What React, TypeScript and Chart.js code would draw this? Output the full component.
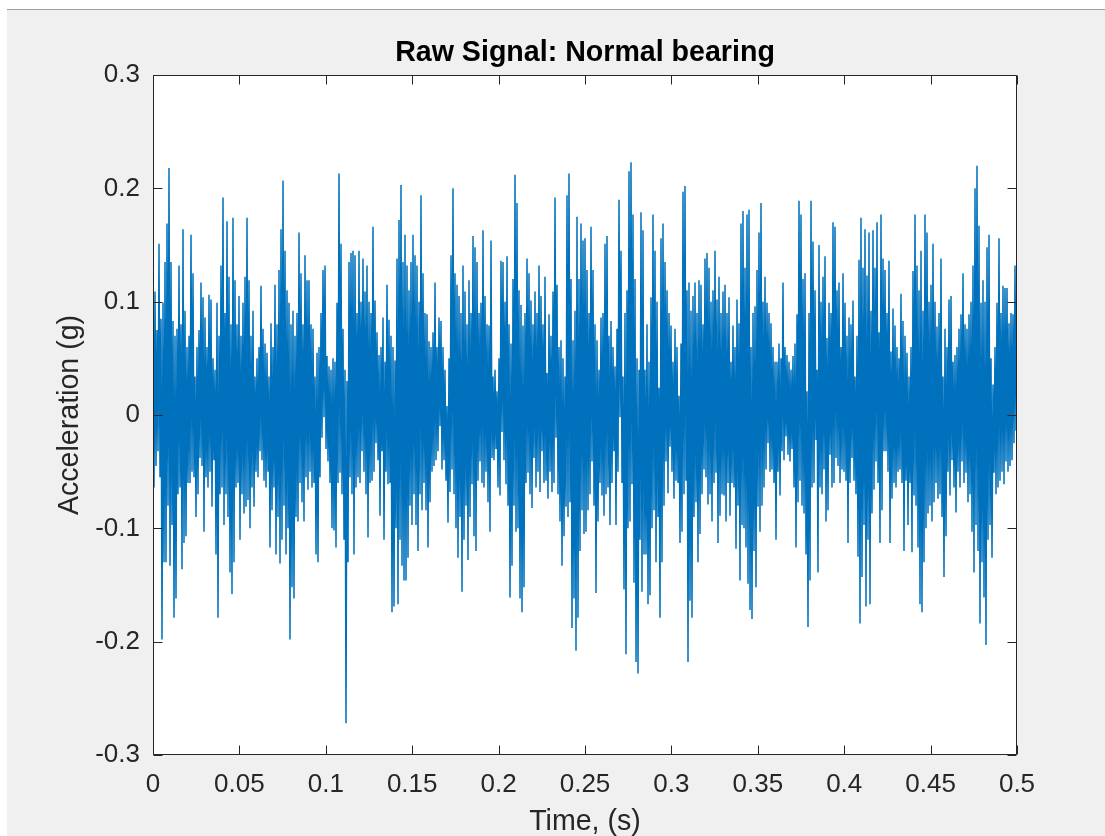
import React, { useEffect, useRef } from "react";
import { Chart, registerables } from "chart.js";

Chart.register(...registerables);

const TITLE = "Raw Signal: Normal bearing";
const X_LABEL = "Time, (s)";
const Y_LABEL = "Acceleration (g)";
const DURATION_S = 0.5;

const X_TICKS = [0, 0.05, 0.1, 0.15, 0.2, 0.25, 0.3, 0.35, 0.4, 0.45, 0.5];
const X_TICK_LABELS = ["0", "0.05", "0.1", "0.15", "0.2", "0.25", "0.3", "0.35", "0.4", "0.45", "0.5"];
const Y_TICKS = [-0.3, -0.2, -0.1, 0, 0.1, 0.2, 0.3];
const Y_TICK_LABELS = ["-0.3", "-0.2", "-0.1", "0", "0.1", "0.2", "0.3"];

// Acceleration samples in milli-g, one per screen pixel, 0 s -> 0.5 s
const SEG_1 = [
  60,-64,109,-45,75,-32,151,-55,85,-198,99,-130,
  135,-130,169,-80,218,-133,135,-97,83,-179,70,-162,
  76,-70,132,-64,80,-136,164,-113,92,-107,60,-60,
  70,-60,159,-50,125,-55,34,-90,60,-70,75,-38,
  117,-45,104,-103,86,-55,60,-64,106,-50,102,-81,
  50,-40,40,-123,99,-179,70,-70,132,-64,192,-97,
  90,-70,171,-90,122,-139,80,-158,174,-130,119,-64,
  80,-60,105,-110,70,-70,99,-87,122,-81,174,-75,
  119,-100,70,-64,92,-81,34,-50,50,-55,60,-32,
  114,-40,76,-58,63,-64,55,-50,34,-117,81,-84,
  60,-64,115,-123,80,-90,128,-131,164,-110,207,-80,
  145,-123,110,-100,99,-198,80,-152,92,-162,70,-90,
];
const SEG_2 = [
  90,-94,161,-60,125,-77,80,-94,141,-55,119,-66,
  119,-50,80,-64,76,-60,34,-123,55,-130,60,-55,
  90,-20,128,-2,132,-30,52,-41,43,-60,40,-100,
  50,-102,47,-117,99,-60,213,-51,151,-70,76,-110,
  40,-272,30,-130,135,-55,143,-70,145,-123,141,-64,
  90,-55,145,-60,100,-32,138,-50,109,-70,132,-108,
  100,-60,90,-58,166,-50,101,-25,73,-40,53,-89,
  60,-32,86,-110,47,-50,115,-61,84,-60,70,-174,
  60,-169,48,-100,138,-167,172,-110,203,-133,135,-146,
  159,-146,132,-126,110,-80,135,-97,159,-70,141,-97,
  132,-120,100,-70,194,-84,125,-60,90,-84,89,-117,
  65,-77,60,-50,73,-45,117,-40,60,-32,86,-10,
];
const SEG_3 = [
  83,-48,60,-40,40,-58,8,-95,50,-68,141,-48,
  200,-70,125,-100,115,-126,105,-90,90,-156,132,-110,
  109,-80,80,-128,119,-90,90,-61,158,-107,148,-120,
  135,-58,90,-41,99,-60,163,-64,105,-50,80,-77,
  79,-103,154,-38,34,-40,40,-30,21,-64,50,-71,
  136,-15,135,-40,100,-61,140,-80,80,-161,63,-133,
  120,-80,212,-103,187,-100,110,-162,97,-174,79,-152,
  90,-60,138,-51,125,-70,101,-82,80,-38,109,-64,
  90,-50,132,-68,105,-32,80,-60,122,-58,37,-74,
  89,-50,70,-68,109,-60,192,-20,115,-70,60,-94,
  66,-133,50,-107,34,-81,194,-90,213,-77,120,-188,
  66,-162,92,-208,175,-179,120,-120,169,-84,154,-105,
];
const SEG_4 = [
  156,-103,128,-84,90,-70,166,-41,128,-80,80,-157,
  66,-94,40,-60,86,-71,90,-89,151,-70,158,-64,
  70,-97,83,-60,60,-32,43,-97,76,-50,190,-2,
  145,-60,34,-154,90,-211,110,-100,215,-94,223,-61,
  177,-148,120,-218,50,-228,40,-110,179,-156,163,-123,
  40,-123,80,-167,47,-159,104,-100,177,-84,145,-130,
  100,-90,24,-179,156,-130,169,-80,135,-41,110,-69,
  90,-28,79,-50,47,-74,76,-58,60,-60,17,-113,
  63,-103,197,-70,202,-58,110,-218,117,-164,92,-179,
  105,-90,117,-77,90,-130,119,-105,115,-70,80,-48,
  138,-55,143,-79,130,-70,100,-94,110,-60,145,-51,
  102,-113,122,-89,90,-70,109,-71,115,-94,90,-60,
];
const SEG_5 = [
  104,-89,47,-60,79,-64,60,-118,102,-80,81,-146,
  169,-97,180,-100,130,-117,177,-149,181,-172,60,-180,
  90,-120,96,-152,128,-81,161,-103,187,-80,100,-64,
  122,-48,99,-25,90,-50,81,-48,60,-60,47,-110,
  47,-50,63,-71,50,-32,117,-40,60,-19,53,-35,
  47,-41,40,-30,52,-64,63,-117,89,-77,189,-58,
  177,-80,120,-87,125,-123,21,-187,90,-146,189,-64,
  153,-60,110,-22,40,-139,150,-64,100,-70,122,-48,
  140,-94,68,-84,99,-35,90,-64,170,-60,166,-38,
  110,-45,117,-60,60,-48,125,-50,99,-58,70,-113,
  86,-60,80,-38,101,-58,34,-70,70,-125,137,-184,
  174,-143,130,-97,164,-169,123,-110,161,-167,92,-87,
];
const SEG_6 = [
  163,-66,130,-41,170,-60,73,-113,177,-84,138,-32,
  128,-32,90,-50,136,-113,56,-74,94,-60,79,-64,
  60,-50,50,-48,107,-60,83,-120,70,-58,55,-97,
  34,-60,60,-121,127,-71,177,-80,132,-117,110,-167,
  145,-174,92,-130,177,-100,161,-87,100,-80,115,-94,
  151,-77,100,-60,78,-74,90,-70,138,-90,34,-143,
  76,-107,60,-50,102,-71,105,-40,47,-64,53,-86,
  60,-50,76,-64,89,-41,125,-60,80,-51,76,-77,
  89,-70,100,-103,132,-139,200,-97,220,-120,167,-184,
  99,-130,119,-161,100,-203,148,-110,159,-97,50,-126,
  27,-51,60,-70,99,-64,156,-58,90,-50,114,-61,
  112,-41,112,-50,81,-45,90,-40,89,-25,132,-14,137,
];

const FONT = "'Liberation Sans', Arial, Helvetica, sans-serif";
const LINE_COLOR = "#0072bd";
const AXIS_COLOR = "#262626";

const framePlugin = {
  id: "matlabFrame",
  beforeDraw(chart: any) {
    const { ctx, chartArea: a } = chart;
    ctx.save();
    ctx.fillStyle = "#ffffff";
    ctx.fillRect(a.left, a.top, a.right - a.left, a.bottom - a.top);
    ctx.restore();
  },
  afterDraw(chart: any) {
    const { ctx, chartArea: a, scales } = chart;
    const L = Math.round(a.left) + 0.5;
    const R = Math.round(a.right) - 0.5;
    const T = Math.round(a.top) + 0.5;
    const B = Math.round(a.bottom) - 0.5;
    const tl = 9;
    ctx.save();
    ctx.strokeStyle = AXIS_COLOR;
    ctx.lineWidth = 1;
    ctx.beginPath();
    ctx.rect(L, T, R - L, B - T);
    X_TICKS.forEach((v) => {
      const px = Math.round(scales.x.getPixelForValue(v)) + 0.5;
      ctx.moveTo(px, B);
      ctx.lineTo(px, B - tl);
      ctx.moveTo(px, T);
      ctx.lineTo(px, T + tl);
    });
    Y_TICKS.forEach((v) => {
      const py = Math.round(scales.y.getPixelForValue(v)) + 0.5;
      ctx.moveTo(L, py);
      ctx.lineTo(L + tl, py);
      ctx.moveTo(R, py);
      ctx.lineTo(R - tl, py);
    });
    ctx.stroke();
    ctx.restore();
  },
};

export default function App() {
  const ref = useRef<HTMLCanvasElement | null>(null);

  useEffect(() => {
    if (!ref.current) return;
    const samples = [...SEG_1, ...SEG_2, ...SEG_3, ...SEG_4, ...SEG_5, ...SEG_6];
    const n = samples.length;
    const points = samples.map((mg, i) => ({ x: (i * DURATION_S) / (n - 1), y: mg / 1000 }));

    const chart = new Chart(ref.current, {
      type: "line",
      data: {
        datasets: [
          {
            data: points,
            borderColor: LINE_COLOR,
            borderWidth: 1.5,
            pointRadius: 0,
            tension: 0,
            fill: false,
            borderJoinStyle: "bevel",
          } as any,
        ],
      },
      plugins: [framePlugin],
      options: {
        animation: false,
        responsive: false,
        maintainAspectRatio: false,
        parsing: false,
        normalized: true,
        layout: { autoPadding: false, padding: { left: 0, top: 0, right: 88, bottom: 0 } },
        plugins: {
          legend: { display: false },
          tooltip: { enabled: false },
          title: {
            display: true,
            text: TITLE,
            fullSize: false,
            color: "#000000",
            font: { family: FONT, size: 28.6, weight: "bold", lineHeight: 1 },
            padding: { top: 39, bottom: 7.4 },
          },
        },
        scales: {
          x: {
            type: "linear",
            min: 0,
            max: 0.5,
            grid: { display: false, drawTicks: false },
            border: { display: false },
            ticks: {
              padding: 14,
              color: AXIS_COLOR,
              font: { family: FONT, size: 26 },
              maxRotation: 0,
              autoSkip: false,
              callback: (_v: any, i: number) => X_TICK_LABELS[i],
            },
            title: {
              display: true,
              text: X_LABEL,
              color: AXIS_COLOR,
              font: { family: FONT, size: 28.6, lineHeight: 1 },
              padding: 0,
            },
            afterBuildTicks: (s: any) => {
              s.ticks = X_TICKS.map((v) => ({ value: v }));
            },
            afterFit: (s: any) => {
              s.height = 81;
              s.paddingLeft = 0;
              s.paddingRight = 0;
            },
          },
          y: {
            type: "linear",
            min: -0.3,
            max: 0.3,
            grid: { display: false, drawTicks: false },
            border: { display: false },
            ticks: {
              padding: 13,
              color: AXIS_COLOR,
              font: { family: FONT, size: 26 },
              autoSkip: false,
              callback: (_v: any, i: number) => Y_TICK_LABELS[i],
            },
            title: {
              display: true,
              text: Y_LABEL,
              color: AXIS_COLOR,
              font: { family: FONT, size: 28.6, lineHeight: 1 },
              padding: { top: 56, bottom: 0 },
            },
            afterBuildTicks: (s: any) => {
              s.ticks = Y_TICKS.map((v) => ({ value: v }));
            },
            afterFit: (s: any) => {
              s.width = 153;
              s.paddingTop = 0;
              s.paddingBottom = 0;
            },
          },
        },
      } as any,
    });
    return () => chart.destroy();
  }, []);

  return (
    <div
      style={{
        position: "fixed",
        left: 0,
        top: 0,
        width: 1105,
        height: 836,
        background: "#ffffff",
        overflow: "hidden",
      }}
    >
      <div
        style={{
          position: "absolute",
          left: 7,
          top: 9,
          right: 0,
          bottom: 0,
          background: "#f0f0f0",
          borderTop: "1px solid #a0a0a0",
        }}
      />
      <canvas
        ref={ref}
        width={1105}
        height={836}
        style={{ position: "absolute", left: 0, top: 0, width: 1105, height: 836 }}
      />
    </div>
  );
}
